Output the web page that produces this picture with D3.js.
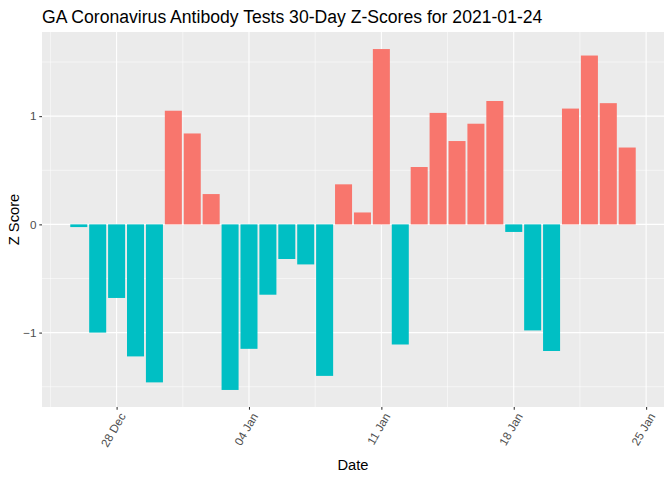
<!DOCTYPE html>
<html lang="en">
<head>
<meta charset="UTF-8">
<script src="https://d3js.org/d3.v7.min.js"></script>
<style>
  body { margin: 0; padding: 0; background: #fff; }
  svg { display: block; font-family: "Liberation Sans", Arial, sans-serif; }
</style>
</head>
<body>
<svg id="chart" width="672" height="480"></svg>
<script>
// Daily z-scores, 26 Dec 2020 .. 24 Jan 2021
const startDate = "2020-12-26";
const zScores = [
  -0.025, -1.0, -0.68, -1.22, -1.46,
  1.05, 0.84, 0.28, -1.53, -1.15,
  -0.65, -0.32, -0.37, -1.40, 0.37,
  0.11, 1.62, -1.11, 0.53, 1.03,
  0.77, 0.93, 1.14, -0.07, -0.98,
  -1.17, 1.07, 1.56, 1.12, 0.71
];
const xTickDates = ["2020-12-28", "2021-01-04", "2021-01-11", "2021-01-18", "2021-01-25"];
const yTicks = [-1, 0, 1];

const parse = d3.utcParse("%Y-%m-%d");
const DAY = 864e5;
const t0 = parse(startDate);
const data = zScores.map((z, i) => ({ date: new Date(+t0 + i * DAY), z }));

const svg = d3.select("#chart");
const panel = { left: 42, right: 664, top: 32, bottom: 407 };

// x: continuous date scale, bars 0.9 day wide, 5% expansion like ggplot
const halfBar = 0.45 * DAY;
const xMin = +data[0].date - halfBar;
const xMax = +data[data.length - 1].date + halfBar;
const xPad = (xMax - xMin) * 0.05;
const x = d3.scaleUtc()
  .domain([new Date(xMin - xPad), new Date(xMax + xPad)])
  .range([panel.left, panel.right]);

const zExt = d3.extent(zScores.concat([0]));
const yPad = (zExt[1] - zExt[0]) * 0.05;
const y = d3.scaleLinear()
  .domain([zExt[0] - yPad, zExt[1] + yPad])
  .range([panel.bottom, panel.top]);

// panel background
svg.append("rect")
  .attr("x", panel.left).attr("y", panel.top)
  .attr("width", panel.right - panel.left)
  .attr("height", panel.bottom - panel.top)
  .attr("fill", "#EBEBEB");

const grid = svg.append("g");
const xTicks = xTickDates.map(parse);

// minor gridlines
const xMinor = [new Date(+xTicks[0] - 3.5 * DAY)].concat(
  xTicks.slice(0, -1).map(d => new Date(+d + 3.5 * DAY)));
grid.selectAll(".xminor").data(xMinor).enter().append("line")
  .attr("x1", d => x(d)).attr("x2", d => x(d))
  .attr("y1", panel.top).attr("y2", panel.bottom)
  .attr("stroke", "#fff").attr("stroke-width", 0.53);
const yMinor = [-1.5, -0.5, 0.5, 1.5];
grid.selectAll(".yminor").data(yMinor).enter().append("line")
  .attr("x1", panel.left).attr("x2", panel.right)
  .attr("y1", d => y(d)).attr("y2", d => y(d))
  .attr("stroke", "#fff").attr("stroke-width", 0.53);

// major gridlines
grid.selectAll(".xmajor").data(xTicks).enter().append("line")
  .attr("x1", d => x(d)).attr("x2", d => x(d))
  .attr("y1", panel.top).attr("y2", panel.bottom)
  .attr("stroke", "#fff").attr("stroke-width", 1.07);
grid.selectAll(".ymajor").data(yTicks).enter().append("line")
  .attr("x1", panel.left).attr("x2", panel.right)
  .attr("y1", d => y(d)).attr("y2", d => y(d))
  .attr("stroke", "#fff").attr("stroke-width", 1.07);

// bars
const barW = x(new Date(+t0 + 0.9 * DAY)) - x(t0);
svg.append("g").selectAll("rect").data(data).enter().append("rect")
  .attr("x", d => x(d.date) - barW / 2)
  .attr("width", barW)
  .attr("y", d => y(Math.max(0, d.z)))
  .attr("height", d => Math.abs(y(d.z) - y(0)))
  .attr("fill", d => d.z > 0 ? "#F8766D" : "#00BFC4");

// x axis
const xAxis = svg.append("g")
  .attr("transform", `translate(0,${panel.bottom})`)
  .call(d3.axisBottom(x).tickValues(xTicks).tickFormat(d3.utcFormat("%d %b")).tickSize(2.7).tickSizeOuter(0));
xAxis.select(".domain").remove();
xAxis.selectAll(".tick line").attr("stroke", "#333333").attr("stroke-width", 1.07);
xAxis.selectAll(".tick text")
  .attr("fill", "#4D4D4D")
  .attr("font-size", "11.7px")
  .attr("text-anchor", "end")
  .attr("dy", null)
  .attr("y", 0)
  .attr("transform", "translate(9,9) rotate(-60)");

// y axis
const yAxis = svg.append("g")
  .attr("transform", `translate(${panel.left},0)`)
  .call(d3.axisLeft(y).tickValues(yTicks).tickFormat(d3.format("d")).tickSize(2.7).tickSizeOuter(0));
yAxis.select(".domain").remove();
yAxis.selectAll(".tick line").attr("stroke", "#333333").attr("stroke-width", 1.07);
yAxis.selectAll(".tick text")
  .attr("fill", "#4D4D4D")
  .attr("font-size", "11.7px")
  .attr("x", -5.5);

// labels
svg.append("text")
  .attr("x", (panel.left + panel.right) / 2).attr("y", 470)
  .attr("text-anchor", "middle")
  .attr("font-size", "14.7px").attr("fill", "#000")
  .text("Date");

svg.append("text")
  .attr("transform", `translate(19,${(panel.top + panel.bottom) / 2}) rotate(-90)`)
  .attr("text-anchor", "middle")
  .attr("font-size", "14.7px").attr("fill", "#000")
  .text("Z Score");

svg.append("text")
  .attr("x", panel.left).attr("y", 23)
  .attr("font-size", "17.6px").attr("fill", "#000")
  .text("GA Coronavirus Antibody Tests 30-Day Z-Scores for 2021-01-24");
</script>
</body>
</html>
